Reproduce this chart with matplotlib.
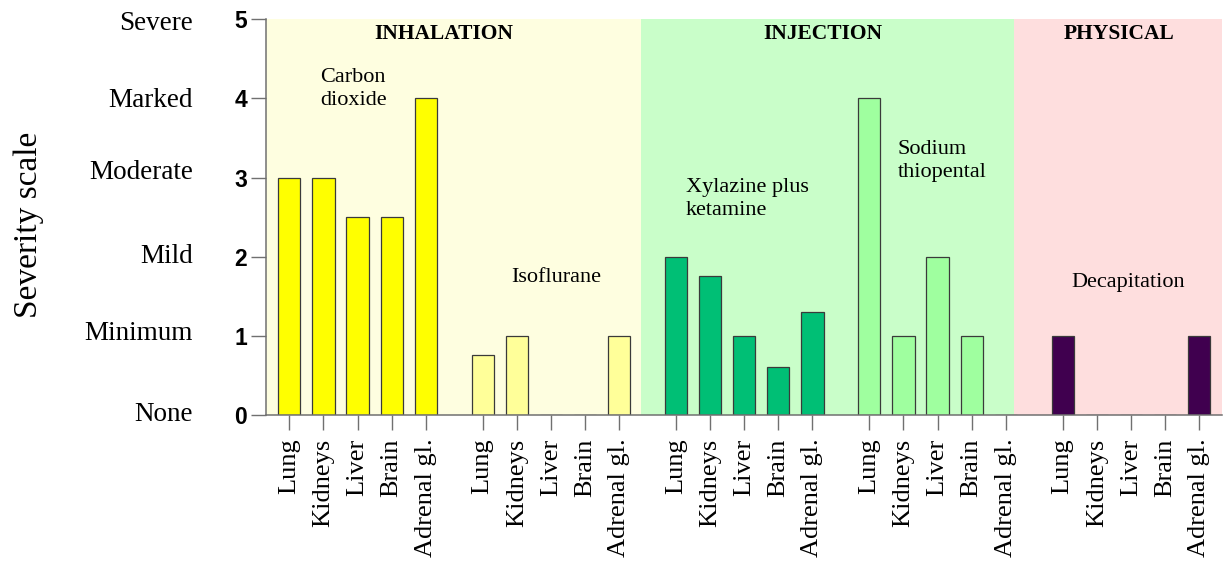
import matplotlib

matplotlib.use("Agg")

import matplotlib.pyplot as plt
import matplotlib.transforms as mtransforms
import numpy as np

# --- Data -------------------------------------------------------------------
organs = ["Lung", "Kidneys", "Liver", "Brain", "Adrenal gl."]
methods = ["Carbon\ndioxide", "Isoflurane", "Xylazine plus\nketamine",
           "Sodium\nthiopental", "Decapitation"]
carbon_dioxide = [3, 3, 2.5, 2.5, 4]
isoflurane = [0.75, 1, 0, 0, 1]
xylazine_ketamine = [2, 1.75, 1, 0.6, 1.3]
sodium_thiopental = [4, 1, 2, 1, 0]
decapitation = [1, 0, 0, 0, 1]
severity_labels = ["None", "Minimum", "Mild", "Moderate", "Marked", "Severe"]
routes = ["INHALATION", "INJECTION", "PHYSICAL"]

series = [carbon_dioxide, isoflurane, xylazine_ketamine, sodium_thiopental, decapitation]
bar_colors = ["#FFFF00", "#FFFF99", "#00BF75", "#9FFF9F", "#40004F"]

# --- Layout -----------------------------------------------------------------
GROUP_STEP = 5.67
SERIF = ["Liberation Serif", "DejaVu Serif"]

fig = plt.figure(figsize=(12.26, 5.62), dpi=100)
ax = fig.add_axes([0.217, 0.262, 0.7797, 0.7036])

x_left, x_right = -0.683, 27.35
# route background bands: (start, end, colour)
bands = [(x_left, 10.30, "#FEFEE0"), (10.30, 21.26, "#C9FEC9"), (21.26, 28.0, "#FEDEDE")]
for start, end, color in bands:
    ax.axvspan(start, end, ymin=0, ymax=1, color=color, linewidth=0, zorder=0)

positions = []
for g, values in enumerate(series):
    x = g * GROUP_STEP + np.arange(len(organs))
    positions.extend(x)
    ax.bar(x, values, width=0.65, color=bar_colors[g], edgecolor="#3a3a3a",
           linewidth=0.9, zorder=2)

ax.set_xlim(x_left, x_right)
ax.set_ylim(0, 5)

ax.set_xticks(positions)
ax.set_xticklabels(organs * len(series), rotation=90, family=SERIF, fontsize=19)
ax.set_yticks(range(6))
ax.set_yticklabels([str(i) for i in range(6)], family="Liberation Sans",
                   fontweight="bold", fontsize=16.5)
ax.tick_params(axis="both", length=11, width=1, color="#707070")
ax.tick_params(axis="x", pad=6)
ax.tick_params(axis="y", pad=2.5)

for side in ("top", "right"):
    ax.spines[side].set_visible(False)
for side in ("left", "bottom"):
    ax.spines[side].set_color("#707070")
    ax.spines[side].set_linewidth(1.1)

# verbal severity scale next to the numeric ticks
trans = mtransforms.blended_transform_factory(fig.transFigure, ax.transData)
label_shift = [0, 0.03, 0, 0.06, -0.03, -0.05]
for level, label in enumerate(severity_labels):
    ax.text(193 / 1226, level + label_shift[level], label, transform=trans,
            ha="right", va="center", family=SERIF, fontsize=19.5)

fig.text(29 / 1226, 1 - 225 / 562, "Severity scale", rotation=90, ha="center",
         va="center", family=SERIF, fontsize=24)

# route headers
for label, xc in zip(routes, [4.52, 15.66, 24.33]):
    ax.text(xc, 4.82, label, ha="center", va="center", family=SERIF,
            fontweight="bold", fontsize=15.5)

# method annotations
method_pos = [(0.90, 4.12), (6.50, 1.74), (11.63, 2.73), (17.84, 3.21), (22.94, 1.67)]
for label, (xa, ya) in zip(methods, method_pos):
    ax.text(xa, ya, label, ha="left", va="center", family=SERIF, fontsize=16,
            linespacing=1.25)

fig.savefig("out.png", dpi=100)
